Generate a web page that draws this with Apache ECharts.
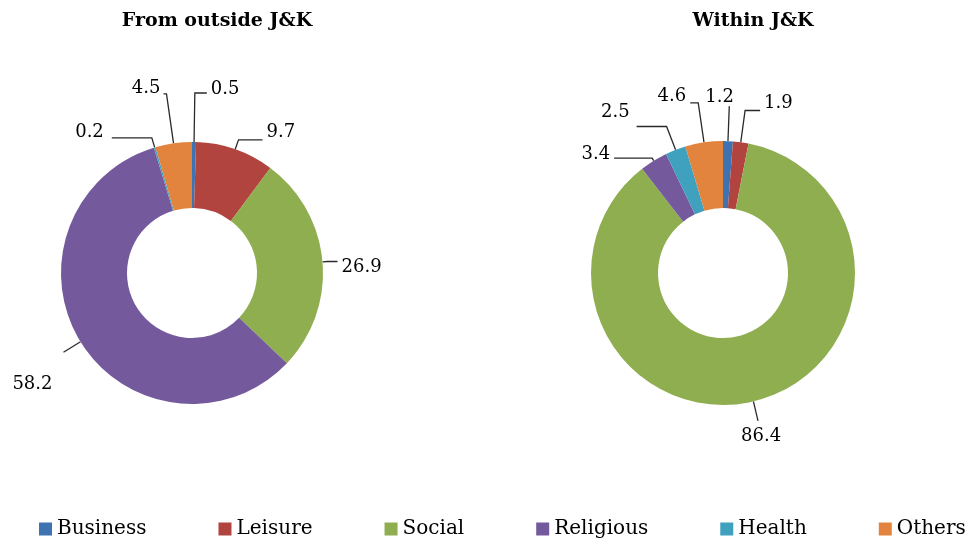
<!DOCTYPE html>
<html>
<head>
<meta charset="utf-8">
<script src="https://cdn.jsdelivr.net/npm/echarts@6/dist/echarts.min.js"></script>
<style>
  html, body { margin: 0; padding: 0; background: #ffffff; }
  #chart { width: 976px; height: 541px; }
</style>
</head>
<body>
<div id="chart"></div>
<script>
// Purpose of visit, share (%) by origin of visitors
const categories = ['Business', 'Leisure', 'Social', 'Religious', 'Health', 'Others'];
const outsideValues = [0.5, 9.7, 26.9, 58.2, 0.2, 4.5];
const withinValues = [1.2, 1.9, 86.4, 3.4, 2.5, 4.6];
const chartTitles = ['From outside J&K', 'Within J&K'];

const palette = ['#3F72B1', '#B1443F', '#8FAE50', '#745A9C', '#3FA1BE', '#E2843D'];
const FONT = 'DejaVu Serif';

// Leader-line shape per slice: [radial length, horizontal length, text dx, text dy]
const outsideLeaders = [
  [49, 12, 0, -4],
  [10, 24, 0, -8],
  [5, 10, 0, 6],
  [20, 0, -7, 32],
  [10, 40, -4, -6],
  [50, 3, 1, -5]
];
const withinLeaders = [
  [35, 0, -28, -9],
  [32, 15, 0, -7],
  [20, 0, -21, 15],
  [3, 38, 0, -4],
  [25, 30, -3, -14],
  [40, 8, 0, -6]
];

function buildPie(name, values, leaders, center, radius) {
  return {
    name: name,
    type: 'pie',
    center: center,
    radius: radius,
    startAngle: 90,
    clockwise: true,
    avoidLabelOverlap: false,
    animation: false,
    silent: true,
    label: {
      show: true,
      position: 'outside',
      formatter: function (p) { return p.value.toFixed(1); },
      fontFamily: FONT,
      fontSize: 18,
      color: '#000000',
      distanceToLabelLine: 4
    },
    labelLine: {
      show: true,
      smooth: false,
      lineStyle: { color: '#2a2a2a', width: 1.3 }
    },
    labelLayout: function (params) {
      const l = leaders[params.dataIndex];
      return { dx: l[2], dy: l[3] };
    },
    data: categories.map(function (c, i) {
      return {
        name: c,
        value: values[i],
        itemStyle: { color: palette[i] },
        labelLine: { length: leaders[i][0], length2: leaders[i][1] }
      };
    })
  };
}

const chart = echarts.init(document.getElementById('chart'), null, { renderer: 'canvas' });
chart.setOption({
  backgroundColor: '#ffffff',
  animation: false,
  title: [
    {
      text: chartTitles[0], left: 212, top: 7, textAlign: 'center',
      textStyle: { fontFamily: FONT, fontSize: 19, fontWeight: 'bold', color: '#000000' }
    },
    {
      text: chartTitles[1], left: 748, top: 7, textAlign: 'center',
      textStyle: { fontFamily: FONT, fontSize: 19, fontWeight: 'bold', color: '#000000' }
    }
  ],
  legend: {
    data: categories,
    top: 514,
    left: 34,
    right: 0,
    itemWidth: 13,
    itemHeight: 13,
    itemGap: 72,
    icon: 'rect',
    textStyle: { fontFamily: FONT, fontSize: 20, color: '#000000' }
  },
  series: [
    buildPie(chartTitles[0], outsideValues, outsideLeaders, [192, 273], [65, 131]),
    buildPie(chartTitles[1], withinValues, withinLeaders, [723, 273], [65, 132])
  ]
});
</script>
</body>
</html>
